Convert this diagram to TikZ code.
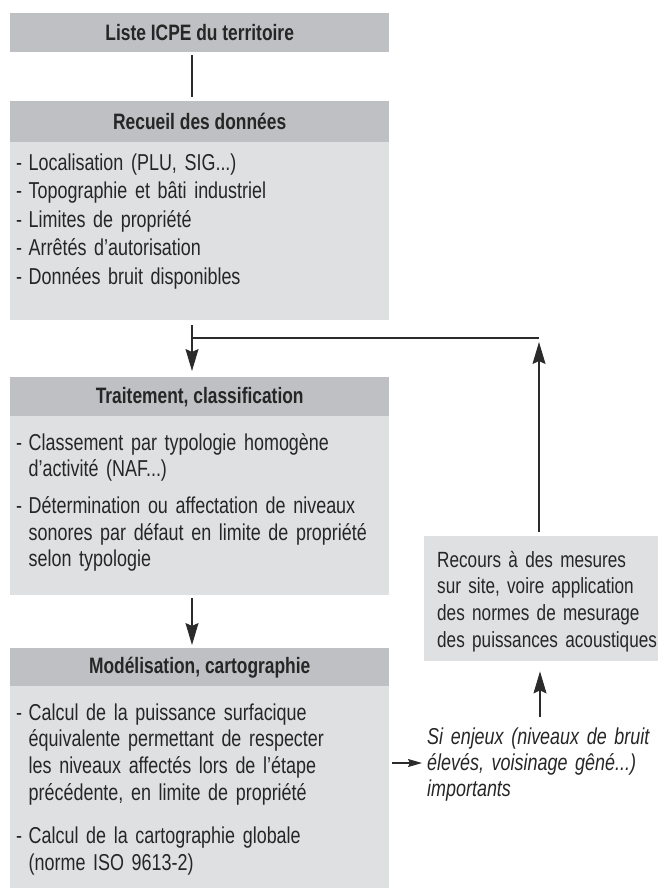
\documentclass[tikz,border=0pt]{standalone}
\usepackage{fontspec}
\setmainfont[FakeStretch=0.78]{Liberation Sans}
\usetikzlibrary{arrows.meta}
\definecolor{hdr}{HTML}{BFC0C3}
\definecolor{bdy}{HTML}{DFE0E2}
\definecolor{txt}{HTML}{262626}
\definecolor{ln}{HTML}{2B2B2B}
\newcommand\itm{\makebox[12.5pt][l]{-}}
\newcommand\cnt{\hspace*{12.5pt}}
\hyphenpenalty=10000
\begin{document}
\begin{tikzpicture}[x=1pt,y=-1pt,
  hbox/.style={fill=hdr, draw=none, anchor=north west, minimum width=379pt, inner sep=0pt, text=txt, font=\fontsize{22.3}{26}\selectfont\bfseries},
  bbox/.style={fill=bdy, draw=none, anchor=north west, minimum width=379pt, inner sep=0pt},
  btext/.style={anchor=base west, inner sep=0pt, text=txt, align=left, text width=400pt, font=\fontsize{23}{26.7}\selectfont},
  conn/.style={draw=ln, line width=1.1pt},
  arr/.style={conn, -{Stealth[length=22pt,width=13pt,inset=3pt]}},
  sarr/.style={conn, -{Stealth[length=14pt,width=8pt,inset=2pt]}},
]
\useasboundingbox (0,0) rectangle (660,888);
% boxes
\node[hbox, minimum height=39pt] (liste) at (10,13) {Liste ICPE du territoire};
\node[hbox, minimum height=41pt] (recH) at (10,101) {Recueil des données};
\node[bbox, minimum height=178pt] (recB) at (10,142) {};
\node[hbox, minimum height=39pt] (traH) at (10,377) {Traitement, classification};
\node[bbox, minimum height=179pt] (traB) at (10,416) {};
\node[hbox, minimum height=38pt] (modH) at (10,648) {Modélisation, cartographie};
\node[bbox, minimum height=202pt] (modB) at (10,686) {};
\node[bbox, minimum width=234pt, minimum height=125pt] (recours) at (424,536) {};
% texts
\node[btext] (recT) at (16,170) {\itm Localisation (PLU, SIG...)\\[1.8pt]
\itm Topographie et bâti industriel\\[1.8pt]
\itm Limites de propriété\\[1.8pt]
\itm Arrêtés d'autorisation\\[1.8pt]
\itm Données bruit disponibles};
\node[btext] (traT) at (16,450) {\itm Classement par typologie homogène\\
\cnt d'activité (NAF...)\\[10pt]
\itm Détermination ou affectation de niveaux\\
\cnt sonores par défaut en limite de propriété\\
\cnt selon typologie};
\node[btext] (modT) at (16,720) {\itm Calcul de la puissance surfacique\\
\cnt équivalente permettant de respecter\\
\cnt les niveaux affectés lors de l'étape\\
\cnt précédente, en limite de propriété\\[17pt]
\itm Calcul de la cartographie globale\\
\cnt (norme ISO 9613-2)};
\node[btext, text width=250pt, font=\fontsize{22}{26.7}\selectfont] (recoursT) at (437,567) {Recours à des mesures\\
sur site, voire application\\
des normes de mesurage\\
des puissances acoustiques};
\node[btext, text width=250pt, font=\fontsize{23}{26}\selectfont\itshape] (enjeux) at (427,744) {Si enjeux (niveaux de bruit\\
élevés, voisinage gêné...)\\
importants};
% connectors
\coordinate (jn) at (192,338);
\coordinate (jr) at (539,338);
\coordinate (ea) at (540,0);
\coordinate (ey) at (0,763);
\draw[conn] ([yshift=-3pt]liste.south -| jn) -- ([yshift=4pt]recH.north -| jn);
\draw[arr] ([yshift=-5pt]recB.south -| jn) -- ([yshift=6pt]traH.north -| jn);
\draw[conn] (jn) -- (jr);
\draw[arr] ([yshift=4pt]recours.north -| jr) -- ([yshift=-4pt]jr);
\draw[arr] ([yshift=-3pt]traB.south -| jn) -- ([yshift=3pt]modH.north -| jn);
\draw[arr] ([yshift=10pt]enjeux.north -| ea) -- ([yshift=-10pt]recours.south -| ea);
\draw[sarr] ([xshift=3pt]modB.east |- ey) -- ([xshift=-5pt]enjeux.west |- ey);
\end{tikzpicture}
\end{document}
